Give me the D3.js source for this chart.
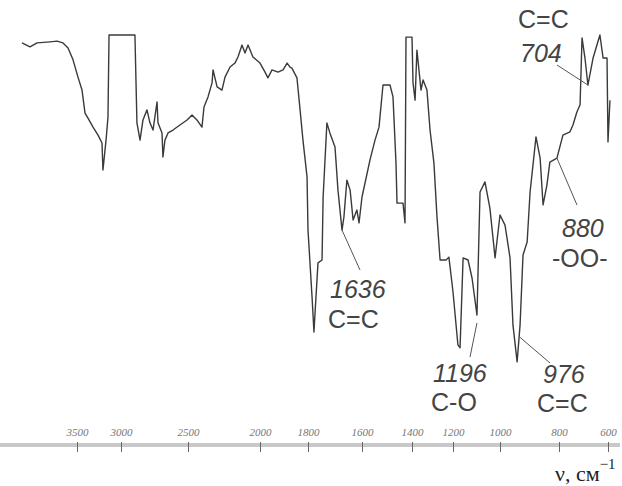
<!DOCTYPE html>
<html>
<head>
<meta charset="utf-8">
<script src="https://cdn.jsdelivr.net/npm/d3@7"></script>
<style>
  body { margin: 0; background: #fff; }
  svg { display: block; }
  .spec { fill: none; stroke: #3a3a3a; stroke-width: 1.4; stroke-linejoin: round; }
  .lbl { font-family: "Liberation Sans", Arial, sans-serif; font-size: 25px; fill: #444; }
  .num { font-style: italic; }
  .lead { stroke: #555; stroke-width: 1; }
</style>
</head>
<body>
<div id="chart"></div>
<script>
// IR spectrum: wavenumber (cm-1) and transmittance (%)
const wavenumbers = [4125, 4034, 3954, 3807, 3727, 3659, 3602, 3545, 3489, 3443, 3409, 3375, 3318, 3261, 3216, 3205, 3170, 3148,
  3136, 2896, 2881, 2858, 2836, 2806, 2784, 2761, 2731, 2724, 2694, 2687, 2672, 2649, 2612, 2560, 2507, 2472, 2438, 2403,
  2389, 2361, 2333, 2326, 2298, 2264, 2243, 2208, 2174, 2153, 2125, 2104, 2083, 2049, 2000, 1979, 1967, 1950, 1925, 1904,
  1887, 1875, 1867, 1846, 1833, 1821, 1804, 1800, 1785, 1778, 1763, 1748, 1744, 1730, 1719, 1700, 1689, 1674, 1667, 1656,
  1644, 1633, 1619, 1611, 1600, 1568, 1548, 1532, 1516, 1488, 1476, 1464, 1460, 1436, 1428, 1424, 1400, 1395, 1385, 1376,
  1356, 1346, 1327, 1312, 1293, 1278, 1263, 1234, 1220, 1205, 1200, 1179, 1170, 1157, 1136, 1119, 1098, 1085, 1064, 1043,
  1021, 1000, 983, 966, 956, 942, 932, 922, 908, 898, 878, 864, 854, 841, 831, 807, 784, 755, 743, 727, 714, 706, 694, 682,
  661, 633, 620, 604, 600, 592];
const transmittance = [97.8, 96.7, 97.8, 98.1, 98.3, 97.8, 96.4, 93.1, 88.3, 84.7, 78.3, 76.9, 74.4, 72.2, 70.0, 62.5, 70.8, 77.2,
  100, 100, 75.6, 70.8, 76.4, 79.2, 75.6, 73.6, 81.4, 75.6, 72.8, 66.1, 70.8, 72.8, 73.6, 75.0, 76.4, 77.8, 76.4, 74.4,
  80.0, 82.8, 86.7, 90.3, 85.6, 84.7, 88.3, 91.1, 92.2, 93.9, 97.2, 95.0, 97.2, 93.9, 92.2, 89.7, 88.1, 90.3, 89.7, 90.3,
  92.2, 91.1, 90.8, 88.1, 79.2, 70.8, 60.6, 45.8, 27.2, 17.5, 36.7, 37.5, 55.0, 75.6, 72.8, 68.9, 56.9, 45.8, 49.4, 59.7,
  56.9, 48.6, 51.4, 47.8, 55.0, 65.3, 70.8, 74.4, 86.1, 86.1, 82.8, 64.4, 53.3, 53.3, 47.8, 99.4, 99.4, 86.7, 81.9, 95.8,
  84.7, 87.5, 84.7, 73.6, 64.4, 49.4, 37.5, 37.5, 38.3, 31.1, 28.6, 13.9, 13.1, 38.1, 37.5, 32.5, 22.2, 56.4, 59.2, 51.9,
  38.1, 50.0, 47.2, 38.1, 19.4, 9.2, 19.4, 38.9, 42.5, 56.4, 71.7, 65.8, 52.8, 58.3, 64.7, 65.8, 72.2, 73.1, 75.0, 78.6,
  80.6, 99.2, 93.6, 86.1, 93.6, 100, 93.6, 93.6, 70.3, 81.9];

const tickValues = [3500, 3000, 2500, 2000, 1800, 1600, 1400, 1200, 1000, 800, 600];

// band assignments: wavenumber label, group, point on curve
const bandLabels = ["1636", "1196", "976", "880", "704"];
const bandGroups = ["C=C", "C-O", "C=C", "-OO-", "C=C"];
const bandWn = [1674, 1098, 932, 807, 682];
const bandT = [45.8, 20.0, 16.0, 65.8, 86.1];

const W = 622, H = 486;
const svg = d3.select("#chart").append("svg").attr("width", W).attr("height", H);

// the printed axis is not uniform, so the scale is piecewise
const x = d3.scaleLinear()
  .domain(tickValues)
  .range([77, 121, 188, 260, 308, 362, 412, 453, 500, 559, 608]);
const y = d3.scaleLinear().domain([0, 100]).range([395, 35]);

const axisY = 445;
svg.append("line")
  .attr("x1", 0).attr("x2", W - 2)
  .attr("y1", axisY).attr("y2", axisY)
  .attr("stroke", "#c8c8c8").attr("stroke-width", 4);

const xAxis = d3.axisTop(x).tickValues(tickValues).tickFormat(d3.format("d")).tickSize(0).tickPadding(9);
const gx = svg.append("g").attr("transform", `translate(0,${axisY})`).call(xAxis);
gx.select(".domain").remove();
gx.selectAll(".tick text")
  .attr("font-family", "'Liberation Serif', serif")
  .attr("font-style", "italic")
  .attr("font-size", 11)
  .attr("fill", "#777");
gx.selectAll(".tick").append("line")
  .attr("y1", -3).attr("y2", 7)
  .attr("stroke", "#666").attr("stroke-width", 1);

const pts = wavenumbers.map((w, i) => [w, transmittance[i]]);
svg.append("path")
  .datum(pts)
  .attr("class", "spec")
  .attr("d", d3.line().x(d => x(d[0])).y(d => y(d[1])));

// annotation placement (label anchor positions)
const labelPos = [
  { tx: 330, ty: 298, gy: 328, lx: 360, ly: 270 },
  { tx: 433, ty: 382, gy: 411, lx: 470, ly: 357 },
  { tx: 543, ty: 383, gy: 412, gx: 537, lx: 550, ly: 363 },
  { tx: 562, ty: 237, gy: 267, gx: 552, lx: 577, ly: 205 },
  { tx: 520, ty: 62, gy: 28, lx: 557, ly: 65 }
];

bandLabels.forEach((lab, i) => {
  const p = labelPos[i];
  svg.append("line").attr("class", "lead")
    .attr("x1", x(bandWn[i])).attr("y1", y(bandT[i]))
    .attr("x2", p.lx).attr("y2", p.ly);
  svg.append("text").attr("class", "lbl num")
    .attr("x", p.tx).attr("y", p.ty).text(lab);
  svg.append("text").attr("class", "lbl")
    .attr("x", p.gx !== undefined ? p.gx : p.tx - 2).attr("y", p.gy)
    .text(bandGroups[i]);
});

// axis title
const title = svg.append("text")
  .attr("x", 555).attr("y", 481)
  .attr("font-family", "'Liberation Serif', 'Times New Roman', serif")
  .attr("font-size", 22)
  .attr("fill", "#222");
title.append("tspan").text("ν, см");
title.append("tspan").attr("dy", -12).attr("font-size", 15).text("−1");
</script>
</body>
</html>
